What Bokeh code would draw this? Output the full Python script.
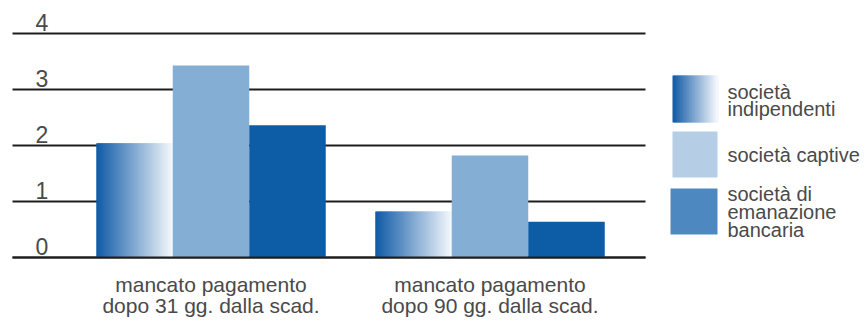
import numpy as np
from bokeh.plotting import figure
from bokeh.layouts import row
from bokeh.models import Range1d
from bokeh.core.properties import value
from bokeh.embed import file_html
from bokeh.resources import INLINE

# ---------------- data ----------------
categories = ["mancato pagamento\ndopo 31 gg. dalla scad.",
              "mancato pagamento\ndopo 90 gg. dalla scad."]
series = ["società\nindipendenti", "società captive", "società di\nemanazione\nbancaria"]
indipendenti = [2.04, 0.82]
captive = [3.43, 1.82]
bancaria = [2.36, 0.64]
y_ticks = [0, 1, 2, 3, 4]

FONT = value("Liberation Sans")
TXT = "#4a4a4a"
SHIFT = 6.5  # px correction for baseline placement

def lerp_colors(c0, c1, n):
    a = np.array([int(c0[i:i + 2], 16) for i in (1, 3, 5)], float)
    b = np.array([int(c1[i:i + 2], 16) for i in (1, 3, 5)], float)
    out = []
    for t in np.linspace(0, 1, n):
        c = a + (b - a) * t
        out.append("#%02x%02x%02x" % tuple(int(round(v)) for v in c))
    return out

GRAD0, GRAD1 = "#115ba7", "#f3f7fc"

# ---------------- main chart ----------------
PX = 76.5   # pixels per x unit
PY = 56.0   # pixels per y unit
W, H = 660, 320
x0px, y0px = 210.5, 257.0
p = figure(width=W, height=H, output_backend="svg", toolbar_location=None,
           x_range=Range1d(-x0px / PX, (W - x0px) / PX),
           y_range=Range1d((y0px - H) / PY, y0px / PY),
           min_border=0, outline_line_color=None)
p.axis.visible = False
p.grid.visible = False
p.background_fill_color = "white"
p.border_fill_color = "white"

gap = 3.647
centers = np.array([0.0, gap])
bw = 1.0

# grid lines
gx0 = (12 - x0px) / PX
gx1 = (645 - x0px) / PX
p.segment(x0=[gx0] * len(y_ticks), x1=[gx1] * len(y_ticks), y0=y_ticks, y1=y_ticks,
          line_color="#1e1e1e", line_width=2)

# gradient bars (indipendenti)
n = 48
cols = lerp_colors(GRAD0, GRAD1, n)
for c, v in zip(centers, indipendenti):
    left = c - 1.5 * bw
    edges = np.linspace(left, left + bw, n + 1)
    step = edges[1] - edges[0]
    p.quad(left=edges[:-1], right=edges[1:] + 0.8 * step, bottom=0, top=v,
           fill_color=cols, line_color=None)

p.quad(left=centers - 0.5 * bw, right=centers + 0.5 * bw, bottom=0, top=captive,
       fill_color="#85aed4", line_color=None)
p.quad(left=centers + 0.5 * bw, right=centers + 1.5 * bw, bottom=0, top=bancaria,
       fill_color="#0c5ca6", line_color=None)

# redraw baseline over bars
p.segment(x0=[gx0], x1=[gx1], y0=[y_ticks[0]], y1=[y_ticks[0]],
          line_color="#1e1e1e", line_width=2)

# y tick labels above grid lines
p.text(x=[(35 - x0px) / PX] * len(y_ticks), y=[t + (4.5 + SHIFT) / PY for t in y_ticks],
       text=[str(t) for t in y_ticks], text_font=FONT, text_font_size="23px",
       text_color=TXT, text_align="left", text_baseline="alphabetic")

# category labels
line1 = [c.split("\n")[0] for c in categories]
line2 = [c.split("\n")[1] for c in categories]
p.text(x=centers, y=[(y0px - 290 + SHIFT) / PY] * 2, text=line1, text_font=FONT,
       text_font_size="21px", text_color=TXT, text_align="center",
       text_baseline="alphabetic")
p.text(x=centers, y=[(y0px - 311.5 + SHIFT) / PY] * 2, text=line2, text_font=FONT,
       text_font_size="21px", text_color=TXT, text_align="center",
       text_baseline="alphabetic")

# ---------------- legend ----------------
LW = 867 - W
leg = figure(width=LW, height=H, output_backend="svg", toolbar_location=None,
             x_range=Range1d(0, LW), y_range=Range1d(H, 0),
             min_border=0, outline_line_color=None)
leg.axis.visible = False
leg.grid.visible = False

sw_left = [12, 12, 10]
sw_right = [57, 57, 57]
sw_top = [75, 131, 188]
sw_bot = [122, 177, 234]
# gradient swatch
m = 30
lc = lerp_colors(GRAD0, GRAD1, m)
e = np.linspace(sw_left[0], sw_right[0], m + 1)
st = e[1] - e[0]
leg.quad(left=e[:-1], right=e[1:] + 0.8 * st, top=sw_top[0], bottom=sw_bot[0],
         fill_color=lc, line_color=None)
leg.quad(left=sw_left[1:], right=sw_right[1:], top=sw_top[1:], bottom=sw_bot[1:],
         fill_color=["#b6cde6", "#4e88c1"], line_color=None)

baselines = [[97.5, 115], [161], [200, 218, 236]]
for s, bl in zip(series, baselines):
    lines = s.split("\n")
    leg.text(x=[67] * len(lines), y=[b - SHIFT for b in bl], text=lines, text_font=FONT,
             text_font_size="20px", text_color=TXT, text_align="left",
             text_baseline="alphabetic")

layout = row(p, leg)
open("out.html", "w").write(file_html(layout, INLINE))
